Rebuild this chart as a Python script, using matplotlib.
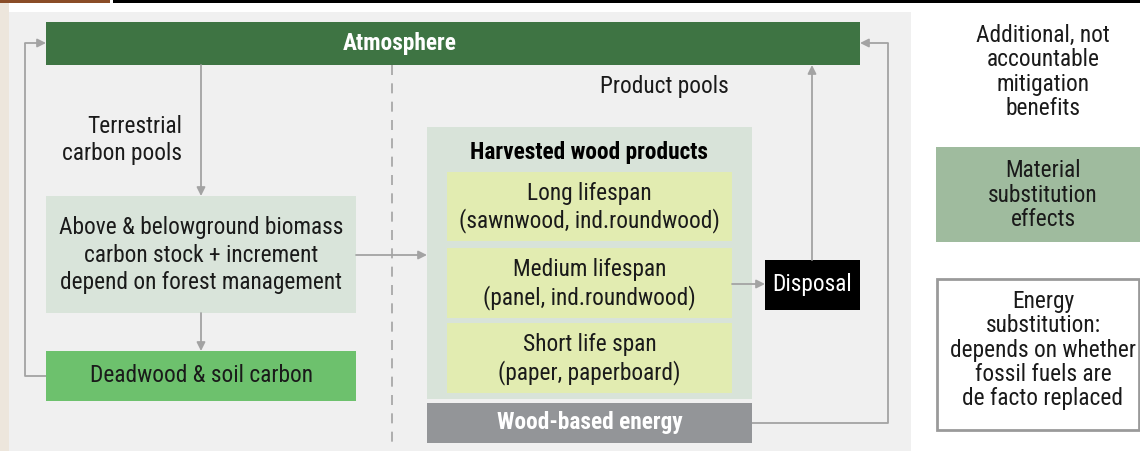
import matplotlib
matplotlib.use("Agg")
from matplotlib import pyplot as plt
from matplotlib import font_manager
from matplotlib.patches import Rectangle

# pick the narrowest installed family
installed = {f.name for f in font_manager.fontManager.ttflist}
candidates = ['Liberation Sans Narrow', 'Roboto Condensed', 'DejaVu Sans Condensed',
              'Open Sans Condensed', 'Roboto', 'Liberation Sans']
family = next((c for c in candidates if c in installed), 'DejaVu Sans')
plt.rcParams['font.family'] = [family, 'DejaVu Sans']

# labels of the diagram
atmosphere_label = "Atmosphere"
terrestrial_label = "Terrestrial\ncarbon pools"
product_label = "Product pools"
biomass_label = "Above & belowground biomass\ncarbon stock + increment\ndepend on forest management"
deadwood_label = "Deadwood & soil carbon"
hwp_label = "Harvested wood products"
lifespan_labels = ["Long lifespan\n(sawnwood, ind.roundwood)",
                   "Medium lifespan\n(panel, ind.roundwood)",
                   "Short life span\n(paper, paperboard)"]
energy_label = "Wood-based energy"
disposal_label = "Disposal"
side_title = "Additional, not\naccountable\nmitigation\nbenefits"
material_label = "Material\nsubstitution\neffects"
energy_sub_label = "Energy\nsubstitution:\ndepends on whether\nfossil fuels are\nde facto replaced"

# layout in pixels (x0, y0, x1, y1), y grows downwards
ATM = (46, 22, 860, 65)
BIOMASS = (46, 196, 356, 313)
DEADWOOD = (46, 351, 356, 401)
HWP = (427, 127, 752, 399)
LIFESPAN = [(447, 172, 732, 241), (447, 248, 732, 318), (447, 323, 732, 393)]
ENERGY = (427, 403, 752, 443)
DISPOSAL = (765, 260, 860, 310)
MATERIAL = (936, 147, 1140, 242)
ENERGY_SUB = (937, 279, 1139, 430)

LINE = '#a3a3a3'
TXT = '#1a1a1a'


def box(ax, rect, color, edge='none', lw=0):
    x0, y0, x1, y1 = rect
    ax.add_patch(Rectangle((x0, y0), x1 - x0, y1 - y0, facecolor=color,
                           edgecolor=edge, linewidth=lw))


def center(rect):
    return (rect[0] + rect[2]) / 2, (rect[1] + rect[3]) / 2


def path_arrow(ax, points):
    # draw a polyline, arrow head on the last segment
    xs = [p[0] for p in points]
    ys = [p[1] for p in points]
    ax.plot(xs[:-1], ys[:-1], color=LINE, lw=1.3, solid_capstyle='butt')
    ax.annotate("", xy=points[-1], xytext=points[-2],
                arrowprops=dict(arrowstyle='-|>,head_length=0.5,head_width=0.25',
                                color=LINE, lw=1.3, shrinkA=0, shrinkB=0))


fig = plt.figure(figsize=(11.4, 4.51), dpi=100)
ax = fig.add_axes([0, 0, 1, 1])
ax.set_xlim(0, 1140)
ax.set_ylim(451, 0)
ax.axis('off')

# size the font so that the widest biomass line is ~283 px, as in the original
probe = ax.text(0, 0, "depend on forest management", fontsize=15)
fig.canvas.draw()
w = probe.get_window_extent().width
probe.remove()
FS = min(17, 15 * 283 / w)

# top strip and background
box(ax, (0, 0, 110, 3), '#8a4d28')
box(ax, (113, 0, 1140, 3), '#000000')
box(ax, (0, 3, 9, 451), '#ede6dc')
box(ax, (9, 12, 911, 451), '#f0f0f0')

# atmosphere
box(ax, ATM, '#3e7443')
ax.text(400, center(ATM)[1], atmosphere_label, color='white', fontsize=FS,
        fontweight='bold', ha='center', va='center')

# terrestrial side
ax.text(182, 140, terrestrial_label, color=TXT, fontsize=FS, ha='right',
        va='center', linespacing=1.2)
box(ax, BIOMASS, '#d9e4da')
ax.text(201, 255, biomass_label, color=TXT, fontsize=FS,
        ha='center', va='center', linespacing=1.25)
box(ax, DEADWOOD, '#6dc16d')
ax.text(*center(DEADWOOD), deadwood_label, color=TXT, fontsize=FS,
        ha='center', va='center')

path_arrow(ax, [(201, ATM[3]), (201, BIOMASS[1])])
path_arrow(ax, [(201, BIOMASS[3]), (201, DEADWOOD[1])])
path_arrow(ax, [(DEADWOOD[0], 376), (25, 376), (25, 43), (ATM[0], 43)])

# divider
ax.plot([392, 392], [ATM[3], 443], color=LINE, lw=1.2, ls=(0, (6, 5)))

# product pools
ax.text(664, 86, product_label, color=TXT, fontsize=FS, ha='center', va='center')
box(ax, HWP, '#d8e3d9')
ax.text(589, 152, hwp_label, color='#000000', fontsize=FS, fontweight='bold',
        ha='center', va='center')
for rect, label in zip(LIFESPAN, lifespan_labels):
    box(ax, rect, '#e2ecb1')
    cx, cy = center(rect)
    ax.text(cx, cy + 1, label, color=TXT, fontsize=FS, ha='center',
            va='center', linespacing=1.2)
box(ax, ENERGY, '#939598')
ax.text(*center(ENERGY), energy_label, color='white', fontsize=FS,
        fontweight='bold', ha='center', va='center')
box(ax, DISPOSAL, '#000000')
ax.text(*center(DISPOSAL), disposal_label, color='white', fontsize=FS,
        ha='center', va='center')

path_arrow(ax, [(BIOMASS[2], 255), (HWP[0], 255)])
path_arrow(ax, [(LIFESPAN[1][2], 284), (DISPOSAL[0], 284)])
path_arrow(ax, [(812, DISPOSAL[1]), (812, ATM[3])])
path_arrow(ax, [(ENERGY[2], 423), (888, 423), (888, 43), (ATM[2], 43)])

# right column
ax.text(1043, 72, side_title, color=TXT, fontsize=FS, ha='center',
        va='center', linespacing=1.08)
box(ax, MATERIAL, '#9fbb9e')
ax.text(1043, 195, material_label, color=TXT, fontsize=FS,
        ha='center', va='center', linespacing=1.08)
box(ax, ENERGY_SUB, 'white', edge='#9a9a9a', lw=2)
ax.text(1043, 350, energy_sub_label, color=TXT, fontsize=FS,
        ha='center', va='center', linespacing=1.06)

fig.savefig("out.png", dpi=100)
